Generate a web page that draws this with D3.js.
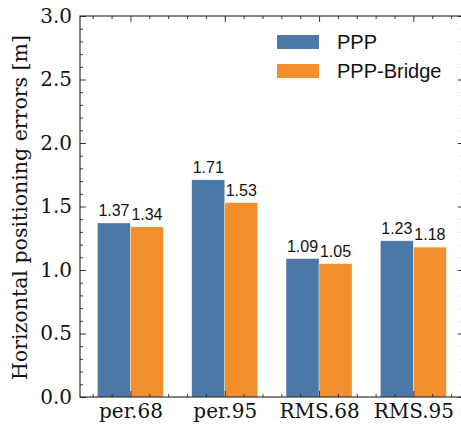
<!DOCTYPE html>
<html>
<head>
<meta charset="utf-8">
<script src="https://cdn.jsdelivr.net/npm/d3@7"></script>
<style>
  html, body { margin: 0; padding: 0; background: #fff; }
  svg { display: block; }
</style>
</head>
<body>
<div id="chart"></div>
<script>
// Data
const categories = ["per.68", "per.95", "RMS.68", "RMS.95"];
const seriesNames = ["PPP", "PPP-Bridge"];
const pppValues = [1.37, 1.71, 1.09, 1.23];
const bridgeValues = [1.34, 1.53, 1.05, 1.18];
const seriesColors = ["#4c78a8", "#f28e2b"];
const yTickValues = [0.0, 0.5, 1.0, 1.5, 2.0, 2.5, 3.0];
const yLabel = "Horizontal positioning errors [m]";

const W = 461, H = 425;
const margin = { left: 80, top: 16, bottom: 397 };
const barWidth = 0.35;
const ink = "#111";

const svg = d3.select("#chart").append("svg")
  .attr("width", W).attr("height", H);

// Scales: categories sit at integer positions 0..3 on a linear x axis
const x = d3.scaleLinear().domain([-0.535, 3.535]).range([margin.left, 463.8]);
const y = d3.scaleLinear().domain([0, 3]).range([margin.bottom, margin.top]);

const series = [pppValues, bridgeValues];

// Bars
series.forEach((vals, s) => {
  const offset = s === 0 ? -barWidth : 0;
  svg.append("g").selectAll("rect")
    .data(vals)
    .join("rect")
    .attr("x", (d, i) => x(i + offset))
    .attr("width", (d, i) => x(i + offset + barWidth) - x(i + offset))
    .attr("y", d => y(d))
    .attr("height", d => y(0) - y(d))
    .attr("fill", seriesColors[s])
    .attr("stroke", "#ffffff")
    .attr("stroke-opacity", 0.6)
    .attr("stroke-width", 0.6);

  // Value labels above each bar
  svg.append("g").selectAll("text")
    .data(vals)
    .join("text")
    .attr("x", (d, i) => x(i + offset + barWidth / 2))
    .attr("y", d => y(d) - 7)
    .attr("text-anchor", "middle")
    .attr("font-family", "'Liberation Sans', Arial, sans-serif")
    .attr("font-size", 16)
    .attr("fill", ink)
    .text(d => d.toFixed(2));
});

// Axes: ticks point inward on all four sides
const serif = "'DejaVu Serif', serif";
const xRight = x.range()[1];
const minorX = d3.range(-0.4, 3.45, 0.2).filter(v => Math.abs(v - Math.round(v)) > 1e-6);
const minorY = d3.range(0, 3.001, 0.1).filter(v => Math.abs(v * 2 - Math.round(v * 2)) > 1e-6);

function styleAxis(g) {
  g.select(".domain").remove();
  g.selectAll("line").attr("stroke", "#222").attr("stroke-width", 0.9);
  g.selectAll("text").attr("font-family", serif).attr("font-size", 20).attr("fill", ink);
}

// Left: major with labels
svg.append("g").attr("transform", `translate(${margin.left},0)`)
  .call(d3.axisLeft(y).tickValues(yTickValues).tickFormat(d3.format(".1f"))
    .tickSizeInner(-6).tickSizeOuter(0).tickPadding(8))
  .call(styleAxis);
svg.append("g").attr("transform", `translate(${margin.left},0)`)
  .call(d3.axisLeft(y).tickValues(minorY).tickFormat("").tickSizeInner(-3).tickSizeOuter(0))
  .call(styleAxis);

// Right
svg.append("g").attr("transform", `translate(${xRight},0)`)
  .call(d3.axisRight(y).tickValues(yTickValues).tickFormat("").tickSizeInner(-6).tickSizeOuter(0))
  .call(styleAxis);
svg.append("g").attr("transform", `translate(${xRight},0)`)
  .call(d3.axisRight(y).tickValues(minorY).tickFormat("").tickSizeInner(-3).tickSizeOuter(0))
  .call(styleAxis);

// Bottom: category labels at integer positions
svg.append("g").attr("transform", `translate(0,${margin.bottom})`)
  .call(d3.axisBottom(x).tickValues(d3.range(categories.length))
    .tickFormat(i => categories[i]).tickSizeInner(-6).tickSizeOuter(0).tickPadding(7))
  .call(styleAxis);
svg.append("g").attr("transform", `translate(0,${margin.bottom})`)
  .call(d3.axisBottom(x).tickValues(minorX).tickFormat("").tickSizeInner(-3).tickSizeOuter(0))
  .call(styleAxis);

// Top
svg.append("g").attr("transform", `translate(0,${margin.top})`)
  .call(d3.axisTop(x).tickValues(d3.range(categories.length)).tickFormat("").tickSizeInner(-6).tickSizeOuter(0))
  .call(styleAxis);
svg.append("g").attr("transform", `translate(0,${margin.top})`)
  .call(d3.axisTop(x).tickValues(minorX).tickFormat("").tickSizeInner(-3).tickSizeOuter(0))
  .call(styleAxis);

// Frame
svg.append("rect")
  .attr("x", margin.left).attr("y", margin.top)
  .attr("width", xRight - margin.left).attr("height", margin.bottom - margin.top)
  .attr("fill", "none").attr("stroke", "#222").attr("stroke-width", 1.1);

// Y axis title
svg.append("text")
  .attr("transform", `translate(27,${(margin.top + margin.bottom) / 2 + 1}) rotate(-90)`)
  .attr("text-anchor", "middle")
  .attr("font-family", serif)
  .attr("font-size", 20.5)
  .attr("fill", ink)
  .text(yLabel);

// Legend
const legend = svg.append("g").attr("transform", "translate(277,35)");
seriesNames.forEach((name, s) => {
  const g = legend.append("g").attr("transform", `translate(0,${s * 29})`);
  g.append("rect").attr("width", 42).attr("height", 14).attr("fill", seriesColors[s]);
  g.append("text")
    .attr("x", 60).attr("y", 14)
    .attr("font-family", "'Liberation Sans', Arial, sans-serif")
    .attr("font-size", 20)
    .attr("fill", ink)
    .text(name);
});
</script>
</body>
</html>
